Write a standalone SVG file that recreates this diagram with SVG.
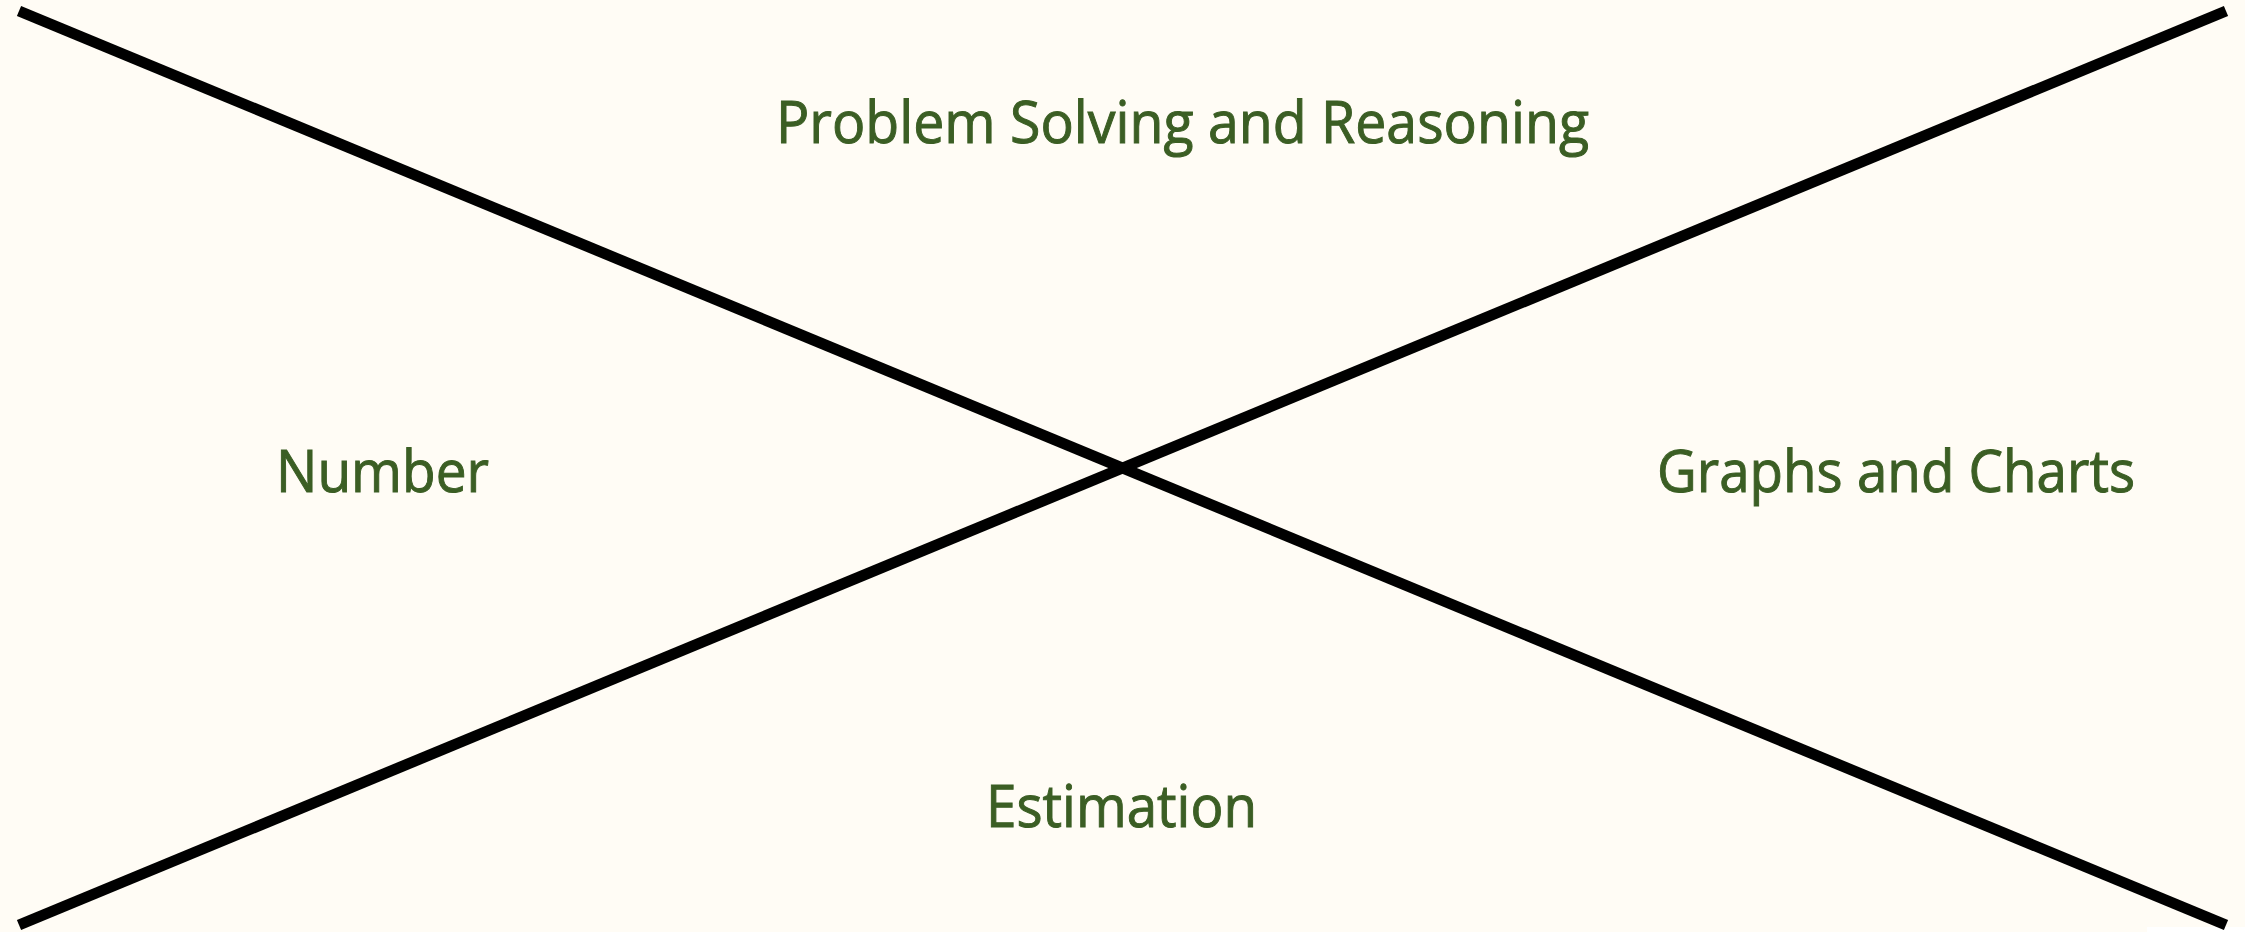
<svg xmlns="http://www.w3.org/2000/svg" width="2245" height="932" viewBox="0 0 2245 932">
<style>
.lbl{font-family:"Open Sans","Noto Sans",sans-serif;font-size:59px;fill:#3B5E24;stroke:#3B5E24;stroke-width:1}
.ln{stroke:#000;stroke-width:11;fill:none}
</style>
<rect x="0" y="0" width="2245" height="932" fill="#FFFCF5"/>
<rect x="2147" y="927" width="98" height="5" fill="#FFFFFF"/>
<g id="connectors">
<line class="ln" x1="19" y1="11" x2="2226" y2="925"/>
<line class="ln" x1="19" y1="925" x2="2226" y2="11"/>
</g>
<g id="problem-solving"><text class="lbl" x="776" y="143" textLength="813" lengthAdjust="spacingAndGlyphs">Problem Solving and Reasoning</text></g>
<g id="number"><text class="lbl" x="276" y="492" textLength="213" lengthAdjust="spacingAndGlyphs">Number</text></g>
<g id="graphs"><text class="lbl" x="1657" y="492" textLength="478" lengthAdjust="spacingAndGlyphs">Graphs and Charts</text></g>
<g id="estimation"><text class="lbl" x="986" y="827" textLength="271" lengthAdjust="spacingAndGlyphs">Estimation</text></g>
</svg>
